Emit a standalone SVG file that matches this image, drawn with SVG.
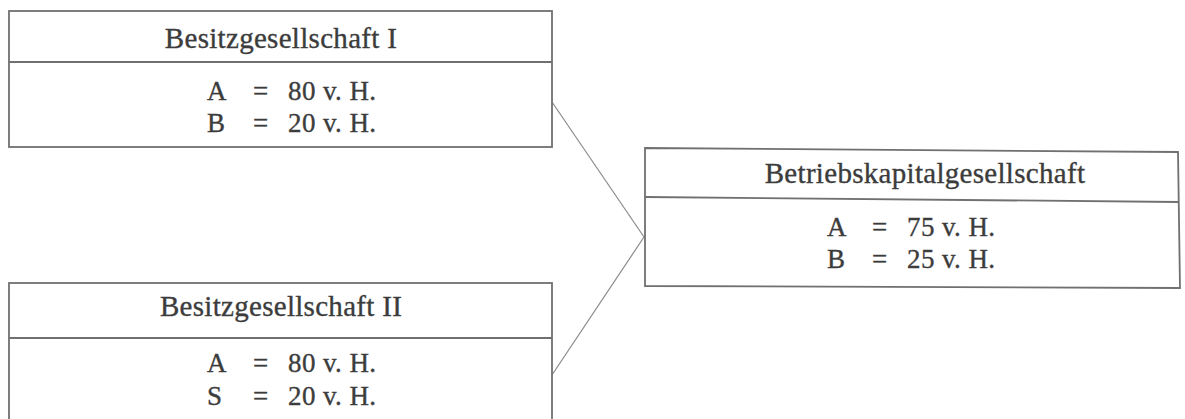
<svg xmlns="http://www.w3.org/2000/svg" width="1185" height="419" viewBox="0 0 1185 419">
  <style>
    .box { fill: none; stroke: #707070; stroke-width: 1.8; }
    .rule { fill: none; stroke: #707070; stroke-width: 1.8; }
    .link { fill: none; stroke: #8a8a8a; stroke-width: 1.2; }
    .title { font-family: "Liberation Serif", "Times New Roman", serif; font-size: 29px; letter-spacing: 0.3px; fill: #3c3c3c; stroke: #3c3c3c; stroke-width: 0.35; text-anchor: middle; }
    .val { font-family: "Liberation Serif", "Times New Roman", serif; font-size: 27px; letter-spacing: 0.4px; fill: #3c3c3c; stroke: #3c3c3c; stroke-width: 0.35; }
  </style>
  <rect width="1185" height="419" fill="#ffffff"/>

  <!-- connectors from both holding companies to the operating company -->
  <g id="connectors">
    <line class="link" x1="552" y1="102" x2="644" y2="237"/>
    <line class="link" x1="552" y1="375" x2="644" y2="237"/>
  </g>

  <!-- Besitzgesellschaft I -->
  <g id="besitz1">
    <rect class="box" x="9" y="11" width="543" height="136"/>
    <line class="rule" x1="9" y1="62" x2="552" y2="62"/>
    <text class="title" x="281" y="48">Besitzgesellschaft I</text>
    <text class="val" x="207" y="100">A</text>
    <text class="val" x="253" y="100">=</text>
    <text class="val" x="288" y="100">80 v. H.</text>
    <text class="val" x="207" y="132">B</text>
    <text class="val" x="253" y="132">=</text>
    <text class="val" x="288" y="132">20 v. H.</text>
  </g>

  <!-- Besitzgesellschaft II (lower edge runs off the page) -->
  <g id="besitz2">
    <rect class="box" x="9" y="283" width="543" height="145"/>
    <line class="rule" x1="9" y1="338" x2="552" y2="338"/>
    <text class="title" x="281" y="316">Besitzgesellschaft II</text>
    <text class="val" x="207" y="372">A</text>
    <text class="val" x="253" y="372">=</text>
    <text class="val" x="288" y="372">80 v. H.</text>
    <text class="val" x="207" y="405">S</text>
    <text class="val" x="253" y="405">=</text>
    <text class="val" x="288" y="405">20 v. H.</text>
  </g>

  <!-- Betriebskapitalgesellschaft -->
  <g id="betrieb">
    <path class="box" d="M645 148 L1178 152 L1180 288 L645 286 Z"/>
    <line class="rule" x1="645" y1="197" x2="1179" y2="202"/>
    <text class="title" x="925" y="183">Betriebskapitalgesellschaft</text>
    <text class="val" x="827" y="236">A</text>
    <text class="val" x="872" y="236">=</text>
    <text class="val" x="907" y="236">75 v. H.</text>
    <text class="val" x="827" y="268">B</text>
    <text class="val" x="872" y="268">=</text>
    <text class="val" x="907" y="268">25 v. H.</text>
  </g>
</svg>
